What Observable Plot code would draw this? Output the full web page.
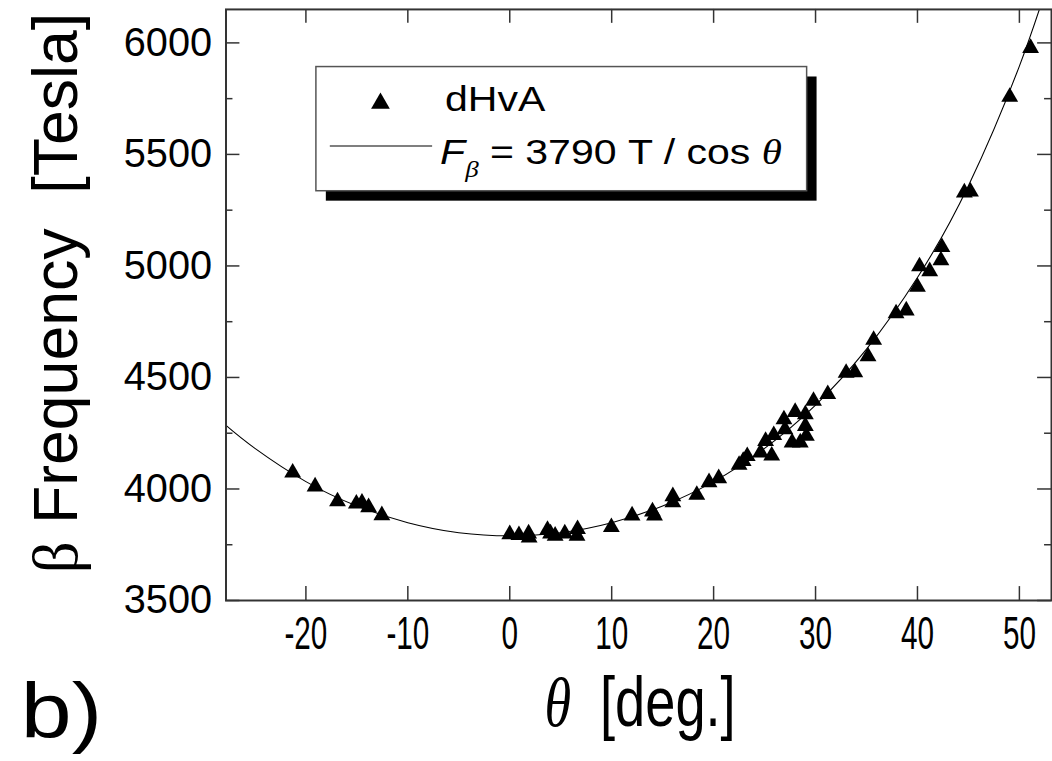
<!DOCTYPE html>
<html>
<head>
<meta charset="utf-8">
<script src="https://cdn.jsdelivr.net/npm/d3@7"></script>
<script src="https://cdn.jsdelivr.net/npm/@observablehq/plot@0.6"></script>
<style>
  html, body { margin: 0; padding: 0; background: #fff; overflow: hidden; }
  svg { display: block; }
</style>
</head>
<body>
<div id="chart"></div>
<script>
// dHvA measurements: angle θ (deg) and β frequency (Tesla)
const thetaDeg = [-21.3, -19.1, -16.9, -15.05, -14.5, -13.85, -12.55,
  0.0, 0.9, 1.85, 1.9, 3.7, 4.0, 4.45, 5.4, 6.65, 6.6, 9.97, 12.0, 14.0, 14.2,
  16.0, 16.0, 18.35, 19.55, 20.5, 22.5, 22.9, 23.3, 24.6, 25.1, 25.7, 25.9,
  26.9, 27.0, 27.7, 28.0, 28.5, 29.0, 29.1, 29.0, 29.8, 31.2, 33.0, 33.85,
  35.15, 35.7, 37.9, 38.9, 40.0, 40.2, 41.2, 42.3, 42.4, 44.6, 45.2, 49.05, 51.1];
const freqT = [4073, 4011, 3944, 3934, 3938, 3918, 3882,
  3797, 3793, 3800, 3782, 3816, 3800, 3790, 3800, 3820, 3790, 3829, 3881, 3899, 3881,
  3967, 3940, 3973, 4030, 4048, 4108, 4125, 4147, 4163, 4215, 4149, 4241,
  4312, 4267, 4208, 4345, 4208, 4282, 4238, 4335, 4395, 4425, 4520, 4523,
  4594, 4668, 4787, 4800, 4906, 4998, 4976, 5025, 5084, 5329, 5333, 5758, 5977];

// fit curve F = 3790 T / cos θ, read at these angles
const fitTheta = [-27.84, -25, -20, -15, -10, -5, 0, 5, 10, 15, 20, 25, 30, 35, 40, 45, 50, 53.15];
const fitFreq  = [4285, 4182, 4033, 3924, 3849, 3804, 3790, 3804, 3849, 3924, 4033, 4182, 4376, 4627, 4948, 5360, 5896, 6318];

// ticks
const xTicks = [-20, -10, 0, 10, 20, 30, 40, 50];
const yTicks = [3500, 4000, 4500, 5000, 5500, 6000];
const yMinorTicks = [3750, 4250, 4750, 5250, 5750];

const points = thetaDeg.map((t, i) => ({theta: t, freq: freqT[i]}));
const fit = fitTheta.map((t, i) => ({theta: t, freq: fitFreq[i]}));

const W = 1059, H = 761;
const mL = 227, mR = 1, mT = 9, mB = 157;
const plotW = W - mL - mR, plotH = H - mT - mB;
const major = 14, minor = 7;

const chart = Plot.plot({
  width: W, height: H,
  marginLeft: mL, marginRight: mR, marginTop: mT, marginBottom: mB,
  style: {background: "#fff", fontFamily: "Liberation Sans, Arial, sans-serif", color: "#000"},
  x: {domain: [-27.84, 53.15]},
  y: {domain: [3500, 6150]},
  marks: [
    Plot.line(fit, {x: "theta", y: "freq", curve: "natural", stroke: "#000", strokeWidth: 1.1, clip: true}),
    Plot.dot(points, {x: "theta", y: "freq", symbol: "triangle", r: 6.3, fill: "#000", stroke: "none"}),
    // inward tick marks on all four sides
    Plot.tickY(yTicks, {y: d => d, insetRight: plotW - major, stroke: "#333", strokeWidth: 1.5}),
    Plot.tickY(yTicks, {y: d => d, insetLeft: plotW - major, stroke: "#333", strokeWidth: 1.5}),
    Plot.tickY(yMinorTicks, {y: d => d, insetRight: plotW - minor, stroke: "#333", strokeWidth: 1.5}),
    Plot.tickY(yMinorTicks, {y: d => d, insetLeft: plotW - minor, stroke: "#333", strokeWidth: 1.5}),
    Plot.tickX(xTicks, {x: d => d, insetTop: plotH - major, stroke: "#333", strokeWidth: 1.5}),
    Plot.tickX(xTicks, {x: d => d, insetBottom: plotH - major, stroke: "#333", strokeWidth: 1.5}),
    Plot.frame({stroke: "#333", strokeWidth: 2}),
    Plot.axisY(yTicks, {tickSize: 0, tickPadding: 14, fontSize: 40, fontFamily: "Liberation Sans", tickFormat: d => String(d), label: null, fill: "#000"}),
    Plot.axisX(xTicks, {tickSize: 0, tickPadding: 16, fontSize: 46, fontFamily: "Liberation Sans", tickFormat: d => String(d), label: null, fill: "#000"})
  ]
});

document.getElementById("chart").appendChild(chart);

const svg = d3.select(chart);

// horizontally rescale a text element around its anchor point
function stretch(el, s) {
  const x = +el.getAttribute("x") || 0, y = +el.getAttribute("y") || 0;
  const t = el.getAttribute("transform") || "";
  el.setAttribute("transform", `${t} translate(${x},${y}) scale(${s},1) translate(${-x},${-y})`);
}
svg.selectAll('g[aria-label="x-axis tick label"] text').each(function () { stretch(this, 0.65); });

// y-axis title (rotated)
const yt = svg.append("text")
  .attr("transform", "translate(78,295) rotate(-90)")
  .attr("text-anchor", "middle")
  .attr("font-family", "Liberation Sans, Arial, sans-serif")
  .attr("font-size", 63)
  .attr("fill", "#000")
  .style("white-space", "pre");
yt.append("tspan").attr("font-family", "Liberation Serif, serif").text("\u03B2");
yt.append("tspan").text(" Frequency\u00A0 [Tesla]");

// x-axis title (condensed, like the reference)
const xs = 0.78;
const xg = svg.append("g").attr("transform", `translate(548,731) scale(${xs},1)`);
xg.append("text").attr("x", 0).attr("y", 0)
  .attr("text-anchor", "start")
  .attr("font-family", "Liberation Serif, serif").attr("font-style", "italic")
  .attr("font-size", 70).attr("fill", "#000").text("\u03B8");
xg.append("text").attr("x", (604 - 548) / xs).attr("y", 0)
  .attr("text-anchor", "start")
  .attr("font-family", "Liberation Sans, Arial, sans-serif")
  .attr("font-size", 70).attr("fill", "#000").text("[deg.]");

// panel label
const bl = svg.append("text")
  .attr("x", 21).attr("y", 743)
  .attr("text-anchor", "start")
  .attr("font-family", "Liberation Sans, Arial, sans-serif")
  .attr("font-size", 78)
  .attr("fill", "#000")
  .text("b)");
stretch(bl.node(), 1.18);

// legend box with shadow
const lg = svg.append("g").attr("text-anchor", "start");
lg.append("rect").attr("x", 328).attr("y", 77).attr("width", 494).attr("height", 125).attr("fill", "#000");
lg.append("rect").attr("x", 318).attr("y", 67).attr("width", 494).attr("height", 125)
  .attr("fill", "#fff").attr("stroke", "#555").attr("stroke-width", 1.5);
lg.append("path").attr("d", d3.symbol(d3.symbolTriangle, Math.PI * 7 * 7)())
  .attr("transform", "translate(383,104)").attr("fill", "#000");
const dt = lg.append("text").attr("x", 448).attr("y", 112)
  .attr("text-anchor", "start")
  .attr("font-family", "Liberation Sans, Arial, sans-serif").attr("font-size", 35).attr("fill", "#000")
  .text("dHvA");
stretch(dt.node(), 1.18);
lg.append("line").attr("x1", 332).attr("x2", 435).attr("y1", 147).attr("y2", 147)
  .attr("stroke", "#000").attr("stroke-width", 1.1);
const ft = lg.append("text").attr("x", 443).attr("y", 165)
  .attr("text-anchor", "start")
  .attr("font-family", "Liberation Sans, Arial, sans-serif").attr("font-size", 35).attr("fill", "#000")
  .style("white-space", "pre");
ft.append("tspan").attr("font-style", "italic").text("F");
ft.append("tspan").attr("font-family", "Liberation Serif, serif").attr("font-style", "italic")
  .attr("font-size", 23).attr("dy", 13).text("\u03B2");
ft.append("tspan").attr("dy", -13).text(" = 3790 T / cos ");
ft.append("tspan").attr("font-family", "Liberation Serif, serif").attr("font-style", "italic").text("\u03B8");
stretch(ft.node(), 1.18);
</script>
</body>
</html>
